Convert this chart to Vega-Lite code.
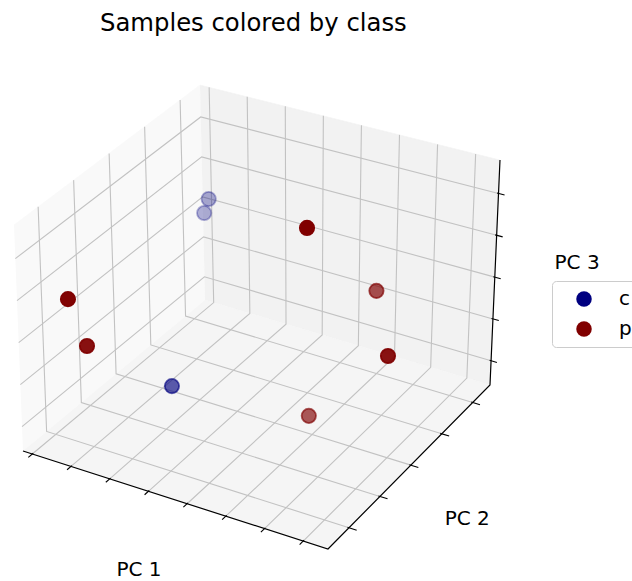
{
  "$schema": "https://vega.github.io/schema/vega-lite/v6.json",
  "autosize": "none",
  "padding": {"top": 40, "left": 0, "right": 0, "bottom": 0},
  "width": 632,
  "height": 541,
  "background": "white",
  "config": {"view": {"stroke": null}},
  "title": {"text": "Samples colored by class", "font": "DejaVu Sans", "fontSize": 24.3, "fontWeight": "normal", "color": "#000000", "anchor": "start", "dx": 100, "offset": 4},
  "data": {"values": [
    {"kind":"pane","seg":"left","i":0,"pc1":-3.24,"pc2":-2.68,"pc3":-2.58},
    {"kind":"pane","seg":"left","i":1,"pc1":-3.24,"pc2":2.56,"pc3":-2.58},
    {"kind":"pane","seg":"left","i":2,"pc1":-3.24,"pc2":2.56,"pc3":2.8},
    {"kind":"pane","seg":"left","i":3,"pc1":-3.24,"pc2":-2.68,"pc3":2.8},
    {"kind":"pane","seg":"right","i":0,"pc1":-3.24,"pc2":2.56,"pc3":-2.58},
    {"kind":"pane","seg":"right","i":1,"pc1":4.64,"pc2":2.56,"pc3":-2.58},
    {"kind":"pane","seg":"right","i":2,"pc1":4.64,"pc2":2.56,"pc3":2.8},
    {"kind":"pane","seg":"right","i":3,"pc1":-3.24,"pc2":2.56,"pc3":2.8},
    {"kind":"pane","seg":"floor","i":0,"pc1":-3.24,"pc2":-2.68,"pc3":-2.58},
    {"kind":"pane","seg":"floor","i":1,"pc1":4.64,"pc2":-2.68,"pc3":-2.58},
    {"kind":"pane","seg":"floor","i":2,"pc1":4.64,"pc2":2.56,"pc3":-2.58},
    {"kind":"pane","seg":"floor","i":3,"pc1":-3.24,"pc2":2.56,"pc3":-2.58},

    {"kind":"grid","seg":"x-3","i":0,"pc1":-3,"pc2":-2.68,"pc3":-2.58},
    {"kind":"grid","seg":"x-3","i":1,"pc1":-3,"pc2":2.56,"pc3":-2.58},
    {"kind":"grid","seg":"x-3","i":2,"pc1":-3,"pc2":2.56,"pc3":2.8},
    {"kind":"grid","seg":"x-2","i":0,"pc1":-2,"pc2":-2.68,"pc3":-2.58},
    {"kind":"grid","seg":"x-2","i":1,"pc1":-2,"pc2":2.56,"pc3":-2.58},
    {"kind":"grid","seg":"x-2","i":2,"pc1":-2,"pc2":2.56,"pc3":2.8},
    {"kind":"grid","seg":"x-1","i":0,"pc1":-1,"pc2":-2.68,"pc3":-2.58},
    {"kind":"grid","seg":"x-1","i":1,"pc1":-1,"pc2":2.56,"pc3":-2.58},
    {"kind":"grid","seg":"x-1","i":2,"pc1":-1,"pc2":2.56,"pc3":2.8},
    {"kind":"grid","seg":"x0","i":0,"pc1":0,"pc2":-2.68,"pc3":-2.58},
    {"kind":"grid","seg":"x0","i":1,"pc1":0,"pc2":2.56,"pc3":-2.58},
    {"kind":"grid","seg":"x0","i":2,"pc1":0,"pc2":2.56,"pc3":2.8},
    {"kind":"grid","seg":"x1","i":0,"pc1":1,"pc2":-2.68,"pc3":-2.58},
    {"kind":"grid","seg":"x1","i":1,"pc1":1,"pc2":2.56,"pc3":-2.58},
    {"kind":"grid","seg":"x1","i":2,"pc1":1,"pc2":2.56,"pc3":2.8},
    {"kind":"grid","seg":"x2","i":0,"pc1":2,"pc2":-2.68,"pc3":-2.58},
    {"kind":"grid","seg":"x2","i":1,"pc1":2,"pc2":2.56,"pc3":-2.58},
    {"kind":"grid","seg":"x2","i":2,"pc1":2,"pc2":2.56,"pc3":2.8},
    {"kind":"grid","seg":"x3","i":0,"pc1":3,"pc2":-2.68,"pc3":-2.58},
    {"kind":"grid","seg":"x3","i":1,"pc1":3,"pc2":2.56,"pc3":-2.58},
    {"kind":"grid","seg":"x3","i":2,"pc1":3,"pc2":2.56,"pc3":2.8},
    {"kind":"grid","seg":"x4","i":0,"pc1":4,"pc2":-2.68,"pc3":-2.58},
    {"kind":"grid","seg":"x4","i":1,"pc1":4,"pc2":2.56,"pc3":-2.58},
    {"kind":"grid","seg":"x4","i":2,"pc1":4,"pc2":2.56,"pc3":2.8},

    {"kind":"grid","seg":"y-2","i":0,"pc1":4.64,"pc2":-2,"pc3":-2.58},
    {"kind":"grid","seg":"y-2","i":1,"pc1":-3.24,"pc2":-2,"pc3":-2.58},
    {"kind":"grid","seg":"y-2","i":2,"pc1":-3.24,"pc2":-2,"pc3":2.8},
    {"kind":"grid","seg":"y-1","i":0,"pc1":4.64,"pc2":-1,"pc3":-2.58},
    {"kind":"grid","seg":"y-1","i":1,"pc1":-3.24,"pc2":-1,"pc3":-2.58},
    {"kind":"grid","seg":"y-1","i":2,"pc1":-3.24,"pc2":-1,"pc3":2.8},
    {"kind":"grid","seg":"y0","i":0,"pc1":4.64,"pc2":0,"pc3":-2.58},
    {"kind":"grid","seg":"y0","i":1,"pc1":-3.24,"pc2":0,"pc3":-2.58},
    {"kind":"grid","seg":"y0","i":2,"pc1":-3.24,"pc2":0,"pc3":2.8},
    {"kind":"grid","seg":"y1","i":0,"pc1":4.64,"pc2":1,"pc3":-2.58},
    {"kind":"grid","seg":"y1","i":1,"pc1":-3.24,"pc2":1,"pc3":-2.58},
    {"kind":"grid","seg":"y1","i":2,"pc1":-3.24,"pc2":1,"pc3":2.8},
    {"kind":"grid","seg":"y2","i":0,"pc1":4.64,"pc2":2,"pc3":-2.58},
    {"kind":"grid","seg":"y2","i":1,"pc1":-3.24,"pc2":2,"pc3":-2.58},
    {"kind":"grid","seg":"y2","i":2,"pc1":-3.24,"pc2":2,"pc3":2.8},

    {"kind":"grid","seg":"z-2","i":0,"pc1":-3.24,"pc2":-2.68,"pc3":-2},
    {"kind":"grid","seg":"z-2","i":1,"pc1":-3.24,"pc2":2.56,"pc3":-2},
    {"kind":"grid","seg":"z-2","i":2,"pc1":4.64,"pc2":2.56,"pc3":-2},
    {"kind":"grid","seg":"z-1","i":0,"pc1":-3.24,"pc2":-2.68,"pc3":-1},
    {"kind":"grid","seg":"z-1","i":1,"pc1":-3.24,"pc2":2.56,"pc3":-1},
    {"kind":"grid","seg":"z-1","i":2,"pc1":4.64,"pc2":2.56,"pc3":-1},
    {"kind":"grid","seg":"z0","i":0,"pc1":-3.24,"pc2":-2.68,"pc3":0},
    {"kind":"grid","seg":"z0","i":1,"pc1":-3.24,"pc2":2.56,"pc3":0},
    {"kind":"grid","seg":"z0","i":2,"pc1":4.64,"pc2":2.56,"pc3":0},
    {"kind":"grid","seg":"z1","i":0,"pc1":-3.24,"pc2":-2.68,"pc3":1},
    {"kind":"grid","seg":"z1","i":1,"pc1":-3.24,"pc2":2.56,"pc3":1},
    {"kind":"grid","seg":"z1","i":2,"pc1":4.64,"pc2":2.56,"pc3":1},
    {"kind":"grid","seg":"z2","i":0,"pc1":-3.24,"pc2":-2.68,"pc3":2},
    {"kind":"grid","seg":"z2","i":1,"pc1":-3.24,"pc2":2.56,"pc3":2},
    {"kind":"grid","seg":"z2","i":2,"pc1":4.64,"pc2":2.56,"pc3":2},

    {"kind":"axis","seg":"ax","i":0,"pc1":-3.24,"pc2":-2.68,"pc3":-2.58},
    {"kind":"axis","seg":"ax","i":1,"pc1":4.64,"pc2":-2.68,"pc3":-2.58},
    {"kind":"axis","seg":"ax","i":2,"pc1":4.64,"pc2":2.56,"pc3":-2.58},
    {"kind":"axis","seg":"ax","i":3,"pc1":4.64,"pc2":2.56,"pc3":2.8},

    {"kind":"tick","seg":"tx-3","i":0,"pc1":-3,"pc2":-2.654,"pc3":-2.58},
    {"kind":"tick","seg":"tx-3","i":1,"pc1":-3,"pc2":-2.795,"pc3":-2.58},
    {"kind":"tick","seg":"tx-2","i":0,"pc1":-2,"pc2":-2.654,"pc3":-2.58},
    {"kind":"tick","seg":"tx-2","i":1,"pc1":-2,"pc2":-2.795,"pc3":-2.58},
    {"kind":"tick","seg":"tx-1","i":0,"pc1":-1,"pc2":-2.654,"pc3":-2.58},
    {"kind":"tick","seg":"tx-1","i":1,"pc1":-1,"pc2":-2.795,"pc3":-2.58},
    {"kind":"tick","seg":"tx0","i":0,"pc1":0,"pc2":-2.654,"pc3":-2.58},
    {"kind":"tick","seg":"tx0","i":1,"pc1":0,"pc2":-2.795,"pc3":-2.58},
    {"kind":"tick","seg":"tx1","i":0,"pc1":1,"pc2":-2.654,"pc3":-2.58},
    {"kind":"tick","seg":"tx1","i":1,"pc1":1,"pc2":-2.795,"pc3":-2.58},
    {"kind":"tick","seg":"tx2","i":0,"pc1":2,"pc2":-2.654,"pc3":-2.58},
    {"kind":"tick","seg":"tx2","i":1,"pc1":2,"pc2":-2.795,"pc3":-2.58},
    {"kind":"tick","seg":"tx3","i":0,"pc1":3,"pc2":-2.654,"pc3":-2.58},
    {"kind":"tick","seg":"tx3","i":1,"pc1":3,"pc2":-2.795,"pc3":-2.58},
    {"kind":"tick","seg":"tx4","i":0,"pc1":4,"pc2":-2.654,"pc3":-2.58},
    {"kind":"tick","seg":"tx4","i":1,"pc1":4,"pc2":-2.795,"pc3":-2.58},
    {"kind":"tick","seg":"ty-2","i":0,"pc1":4.6,"pc2":-2,"pc3":-2.58},
    {"kind":"tick","seg":"ty-2","i":1,"pc1":4.84,"pc2":-2,"pc3":-2.58},
    {"kind":"tick","seg":"ty-1","i":0,"pc1":4.6,"pc2":-1,"pc3":-2.58},
    {"kind":"tick","seg":"ty-1","i":1,"pc1":4.84,"pc2":-1,"pc3":-2.58},
    {"kind":"tick","seg":"ty0","i":0,"pc1":4.6,"pc2":0,"pc3":-2.58},
    {"kind":"tick","seg":"ty0","i":1,"pc1":4.84,"pc2":0,"pc3":-2.58},
    {"kind":"tick","seg":"ty1","i":0,"pc1":4.6,"pc2":1,"pc3":-2.58},
    {"kind":"tick","seg":"ty1","i":1,"pc1":4.84,"pc2":1,"pc3":-2.58},
    {"kind":"tick","seg":"ty2","i":0,"pc1":4.6,"pc2":2,"pc3":-2.58},
    {"kind":"tick","seg":"ty2","i":1,"pc1":4.84,"pc2":2,"pc3":-2.58},
    {"kind":"tick","seg":"tz-2","i":0,"pc1":4.6,"pc2":2.56,"pc3":-2},
    {"kind":"tick","seg":"tz-2","i":1,"pc1":4.8,"pc2":2.56,"pc3":-2},
    {"kind":"tick","seg":"tz-1","i":0,"pc1":4.6,"pc2":2.56,"pc3":-1},
    {"kind":"tick","seg":"tz-1","i":1,"pc1":4.8,"pc2":2.56,"pc3":-1},
    {"kind":"tick","seg":"tz0","i":0,"pc1":4.6,"pc2":2.56,"pc3":0},
    {"kind":"tick","seg":"tz0","i":1,"pc1":4.8,"pc2":2.56,"pc3":0},
    {"kind":"tick","seg":"tz1","i":0,"pc1":4.6,"pc2":2.56,"pc3":1},
    {"kind":"tick","seg":"tz1","i":1,"pc1":4.8,"pc2":2.56,"pc3":1},
    {"kind":"tick","seg":"tz2","i":0,"pc1":4.6,"pc2":2.56,"pc3":2},
    {"kind":"tick","seg":"tz2","i":1,"pc1":4.8,"pc2":2.56,"pc3":2},

    {"kind":"label","seg":"l1","i":0,"txt":"PC 1","pc1":1.441,"pc2":-4.687,"pc3":-2.58},
    {"kind":"label","seg":"l2","i":0,"txt":"PC 2","pc1":6.854,"pc2":-0.888,"pc3":-2.58},
    {"kind":"label","seg":"l3","i":0,"txt":"PC 3","pc1":6.799,"pc2":2.56,"pc3":0.852},

    {"kind":"pt","seg":"s1","i":0,"class":"c","pc1":-2.925,"pc2":2.403,"pc3":0.137},
    {"kind":"pt","seg":"s2","i":0,"class":"c","pc1":-3.004,"pc2":2.35,"pc3":-0.197},
    {"kind":"pt","seg":"s3","i":0,"class":"p","pc1":2.063,"pc2":-0.296,"pc3":2.531},
    {"kind":"pt","seg":"s4","i":0,"class":"p","pc1":2.599,"pc2":1.24,"pc3":0.11},
    {"kind":"pt","seg":"s5","i":0,"class":"p","pc1":4.238,"pc2":-0.348,"pc3":0.11},
    {"kind":"pt","seg":"s6","i":0,"class":"p","pc1":2.016,"pc2":-0.128,"pc3":-2.042},
    {"kind":"pt","seg":"s7","i":0,"class":"p","pc1":-2.042,"pc2":-2.575,"pc3":1.294},
    {"kind":"pt","seg":"s8","i":0,"class":"p","pc1":-1.593,"pc2":-2.575,"pc3":0.309},
    {"kind":"pt","seg":"s9","i":0,"class":"c","pc1":-0.963,"pc2":-0.853,"pc3":-1.6415}
  ]},
  "transform": [
    {"calculate": "(datum.pc1 + 3.24) / 7.88", "as": "u"},
    {"calculate": "(datum.pc2 + 2.68) / 5.24", "as": "v"},
    {"calculate": "(datum.pc3 + 2.58) / 5.38", "as": "w"},
    {"calculate": "23 + 305*datum.u + 182*datum.v - 9*datum.w - 20*datum.u*datum.v + 13*datum.u*datum.w + 4*datum.v*datum.w + 2*datum.u*datum.v*datum.w", "as": "sx"},
    {"calculate": "451 + 98*datum.u - 151*datum.v - 226*datum.w - 13*datum.u*datum.v - 10*datum.u*datum.w + 11*datum.v*datum.w", "as": "sy"},
    {"calculate": "0.433*datum.u - 0.75*datum.v + 0.5*datum.w", "as": "depth"}
  ],
  "encoding": {
    "x": {"field": "sx", "type": "quantitative", "scale": {"domain": [0, 632], "nice": false, "zero": false}, "axis": null},
    "y": {"field": "sy", "type": "quantitative", "scale": {"domain": [40, 581], "reverse": true, "nice": false, "zero": false}, "axis": null}
  },
  "layer": [
    {"transform": [{"filter": "datum.kind === 'pane' && datum.seg === 'left'"}],
     "mark": {"type": "line", "fill": "#f9f9f9", "stroke": "#f9f9f9", "strokeWidth": 0.5},
     "encoding": {"order": {"field": "i", "type": "quantitative"}}},
    {"transform": [{"filter": "datum.kind === 'pane' && datum.seg === 'right'"}],
     "mark": {"type": "line", "fill": "#f2f2f2", "stroke": "#f2f2f2", "strokeWidth": 0.5},
     "encoding": {"order": {"field": "i", "type": "quantitative"}}},
    {"transform": [{"filter": "datum.kind === 'pane' && datum.seg === 'floor'"}],
     "mark": {"type": "line", "fill": "#f5f5f5", "stroke": "#f5f5f5", "strokeWidth": 0.5},
     "encoding": {"order": {"field": "i", "type": "quantitative"}}},
    {"transform": [{"filter": "datum.kind === 'grid'"}],
     "mark": {"type": "line", "color": "#c2c2c2", "strokeWidth": 1.1},
     "encoding": {"detail": {"field": "seg"}, "order": {"field": "i", "type": "quantitative"}}},
    {"transform": [{"filter": "datum.kind === 'axis'"}],
     "mark": {"type": "line", "color": "#000000", "strokeWidth": 1.2},
     "encoding": {"order": {"field": "i", "type": "quantitative"}}},
    {"transform": [{"filter": "datum.kind === 'tick'"}],
     "mark": {"type": "line", "color": "#000000", "strokeWidth": 1.1},
     "encoding": {"detail": {"field": "seg"}, "order": {"field": "i", "type": "quantitative"}}},
    {"transform": [{"filter": "datum.kind === 'pt'"}],
     "mark": {"type": "point", "filled": true, "size": 205, "shape": "circle", "strokeWidth": 1.8, "opacity": 1},
     "encoding": {
       "color": {"field": "class", "type": "nominal", "scale": {"domain": ["c", "p"], "range": ["#000080", "#800000"]},
         "legend": {"title": null, "orient": "none", "legendX": 552, "legendY": 241, "fillColor": "white", "strokeColor": "#cccccc", "cornerRadius": 4, "padding": 8, "labelFont": "DejaVu Sans", "labelFontSize": 20, "labelColor": "#000000", "symbolType": "circle", "symbolSize": 240, "symbolStrokeWidth": 0, "symbolOpacity": 1, "rowPadding": 10, "labelOffset": 25, "symbolOffset": 14}},
       "stroke": {"field": "class", "type": "nominal", "scale": {"domain": ["c", "p"], "range": ["#000080", "#800000"]}, "legend": null},
       "fillOpacity": {"field": "depth", "type": "quantitative", "scale": {"range": [0.3, 1], "zero": false, "nice": false}, "legend": null},
       "strokeOpacity": {"field": "depth", "type": "quantitative", "scale": {"range": [0.3, 1], "zero": false, "nice": false}, "legend": null}
     }},
    {"transform": [{"filter": "datum.kind === 'label'"}],
     "mark": {"type": "text", "font": "DejaVu Sans", "fontSize": 20, "color": "#000000", "align": "center", "baseline": "middle"},
     "encoding": {"text": {"field": "txt"}}}
  ]
}
